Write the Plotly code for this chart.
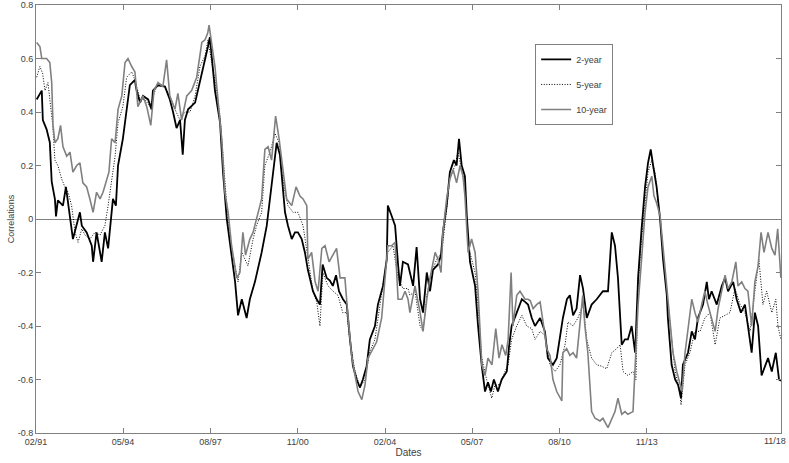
import pandas as pd
import plotly.graph_objects as go

# ---- data (decimal years, correlation values) ----
dates_2y = [1991.11,1991.30,1991.34,1991.48,1991.60,1991.67,1991.79,1991.83,1991.90,1992.09,
1992.20,1992.28,1992.41,1992.46,1992.72,1992.79,1992.97,1993.16,1993.21,1993.34,
1993.53,1993.65,1993.77,1993.84,1993.95,1994.06,1994.14,1994.32,1994.46,1994.58,
1994.77,1994.81,1994.96,1995.07,1995.26,1995.39,1995.44,1995.63,1995.89,1996.07,
1996.19,1996.32,1996.45,1996.55,1996.63,1996.75,1997.01,1997.19,1997.38,1997.49,
1997.56,1997.68,1997.75,1997.94,1998.05,1998.19,1998.31,1998.50,1998.61,1998.75,
1998.93,1999.05,1999.24,1999.49,1999.68,1999.80,1999.91,2000.05,2000.17,2000.28,
2000.36,2000.47,2000.61,2000.73,2000.84,2000.98,2001.10,2001.21,2001.29,2001.40,
2001.54,2001.66,2001.76,2001.91,2002.03,2002.14,2002.26,2002.37,2002.52,2002.66,
2002.78,2002.89,2003.03,2003.15,2003.26,2003.40,2003.52,2003.71,2003.82,2004.01,
2004.15,2004.19,2004.33,2004.46,2004.57,2004.64,2004.75,2004.94,2005.01,2005.13,
2005.26,2005.39,2005.50,2005.64,2005.76,2005.87,2006.06,2006.17,2006.24,2006.38,
2006.50,2006.65,2006.75,2006.84,2006.94,2007.06,2007.13,2007.25,2007.44,2007.55,
2007.69,2007.81,2007.92,2008.03,2008.14,2008.29,2008.43,2008.62,2008.70,2008.80,
2008.99,2009.18,2009.30,2009.41,2009.55,2009.67,2009.86,2010.04,2010.15,2010.34,
2010.48,2010.60,2010.71,2010.86,2010.97,2011.09,2011.22,2011.35,2011.46,2011.60,
2011.78,2011.97,2012.20,2012.39,2012.53,2012.65,2012.76,2012.90,2013.02,2013.13,
2013.27,2013.40,2013.51,2013.64,2013.77,2013.88,2013.98,2014.07,2014.20,2014.33,
2014.44,2014.58,2014.62,2014.76,2014.89,2015.00,2015.11,2015.18,2015.37,2015.51,
2015.63,2015.74,2015.93,2016.07,2016.15,2016.25,2016.44,2016.63,2016.75,2016.86,
2017.05,2017.18,2017.34,2017.49,2017.60,2017.74,2017.86,2017.98,2018.11,2018.24,
2018.35,2018.49,2018.64,2018.76,2018.83]
corr_2y = [0.447,0.48,0.37,0.335,0.286,0.14,0.074,0.01,0.07,0.05,
0.12,0.06,-0.025,-0.075,0.025,-0.025,-0.05,-0.1,-0.16,-0.05,
-0.16,-0.05,-0.11,-0.025,0.075,0.05,0.2,0.3,0.42,0.5,
0.52,0.49,0.435,0.46,0.447,0.41,0.48,0.5,0.495,0.447,
0.4,0.34,0.37,0.24,0.37,0.41,0.435,0.51,0.59,0.645,
0.68,0.57,0.48,0.36,0.175,0.0,-0.1,-0.235,-0.36,-0.3,
-0.37,-0.3,-0.235,-0.125,-0.025,0.075,0.16,0.285,0.24,0.11,
0.025,-0.025,-0.075,-0.05,-0.05,-0.075,-0.125,-0.19,-0.22,-0.27,
-0.3,-0.32,-0.17,-0.22,-0.23,-0.25,-0.21,-0.27,-0.3,-0.32,
-0.45,-0.55,-0.6,-0.63,-0.6,-0.55,-0.45,-0.4,-0.32,-0.25,
-0.15,0.05,0.012,-0.025,-0.17,-0.25,-0.16,-0.17,-0.2,-0.25,
-0.105,-0.3,-0.35,-0.2,-0.27,-0.19,-0.17,-0.135,-0.05,0.05,
0.175,0.22,0.2,0.3,0.2,0.16,0.012,-0.16,-0.25,-0.4,
-0.55,-0.645,-0.61,-0.645,-0.6,-0.645,-0.6,-0.57,-0.48,-0.4,
-0.35,-0.3,-0.31,-0.32,-0.37,-0.4,-0.37,-0.42,-0.52,-0.545,
-0.52,-0.45,-0.37,-0.3,-0.285,-0.36,-0.335,-0.21,-0.26,-0.37,
-0.32,-0.3,-0.27,-0.27,-0.05,-0.1,-0.22,-0.47,-0.45,-0.45,
-0.4,-0.5,-0.22,-0.037,0.12,0.21,0.26,0.2,0.12,0.0,
-0.15,-0.285,-0.37,-0.545,-0.6,-0.62,-0.67,-0.545,-0.5,-0.42,
-0.45,-0.37,-0.32,-0.235,-0.3,-0.27,-0.32,-0.25,-0.22,-0.27,
-0.235,-0.3,-0.35,-0.32,-0.4,-0.5,-0.35,-0.4,-0.585,-0.545,
-0.52,-0.57,-0.5,-0.6,-0.605]

dates_5y = [1991.11,1991.23,1991.33,1991.42,1991.53,1991.60,1991.71,1991.79,1991.90,1992.04,
1992.16,1992.28,1992.41,1992.54,1992.65,1992.79,1992.91,1993.09,1993.28,1993.47,
1993.65,1993.77,1993.90,1994.03,1994.14,1994.32,1994.46,1994.65,1994.77,1994.96,
1995.14,1995.33,1995.52,1995.63,1995.89,1996.07,1996.26,1996.45,1996.63,1996.82,
1997.01,1997.19,1997.38,1997.49,1997.63,1997.75,1997.94,1998.05,1998.19,1998.31,
1998.50,1998.61,1998.75,1998.87,1998.98,1999.17,1999.30,1999.49,1999.61,1999.80,
1999.99,2000.14,2000.28,2000.36,2000.47,2000.66,2000.84,2001.03,2001.21,2001.40,
2001.54,2001.66,2001.77,2001.96,2002.15,2002.33,2002.51,2002.66,2002.78,2002.97,
2003.15,2003.34,2003.52,2003.71,2003.90,2004.08,2004.19,2004.38,2004.57,2004.75,
2004.94,2005.01,2005.20,2005.39,2005.50,2005.64,2005.82,2006.01,2006.20,2006.38,
2006.50,2006.69,2006.80,2006.94,2007.06,2007.18,2007.31,2007.44,2007.55,2007.69,
2007.87,2008.06,2008.18,2008.37,2008.55,2008.67,2008.80,2008.99,2009.18,2009.36,
2009.55,2009.67,2009.86,2010.04,2010.23,2010.42,2010.60,2010.79,2010.90,2011.09,
2011.27,2011.46,2011.60,2011.78,2011.97,2012.15,2012.34,2012.53,2012.71,2012.84,
2012.95,2013.13,2013.32,2013.43,2013.51,2013.64,2013.77,2013.88,2014.02,2014.14,
2014.25,2014.33,2014.51,2014.70,2014.89,2015.07,2015.11,2015.26,2015.44,2015.63,
2015.82,2016.00,2016.19,2016.38,2016.56,2016.75,2016.93,2017.12,2017.31,2017.49,
2017.68,2017.86,2018.01,2018.16,2018.30,2018.49,2018.64,2018.72,2018.83]
corr_5y = [0.53,0.57,0.545,0.48,0.51,0.447,0.35,0.22,0.2,0.15,
0.12,0.1,0.05,-0.05,-0.087,-0.037,-0.06,-0.075,-0.05,-0.06,
-0.025,0.05,0.15,0.235,0.36,0.42,0.53,0.55,0.52,0.447,
0.447,0.42,0.48,0.51,0.495,0.46,0.41,0.37,0.4,0.4,
0.46,0.57,0.61,0.67,0.585,0.52,0.385,0.22,0.05,-0.075,
-0.175,-0.235,-0.125,-0.15,-0.175,-0.075,-0.025,0.025,0.2,0.25,
0.32,0.285,0.15,0.1,0.05,0.025,0.025,-0.025,-0.15,-0.27,
-0.31,-0.4,-0.2,-0.25,-0.27,-0.285,-0.35,-0.35,-0.46,-0.57,
-0.63,-0.6,-0.495,-0.45,-0.32,-0.2,-0.125,-0.1,-0.22,-0.26,
-0.26,-0.285,-0.27,-0.4,-0.42,-0.285,-0.2,-0.15,-0.125,0.037,
0.15,0.2,0.25,0.185,0.12,-0.1,-0.15,-0.2,-0.32,-0.52,
-0.6,-0.67,-0.62,-0.62,-0.57,-0.545,-0.45,-0.4,-0.36,-0.4,
-0.41,-0.45,-0.42,-0.435,-0.545,-0.57,-0.545,-0.47,-0.385,-0.4,
-0.37,-0.32,-0.45,-0.52,-0.545,-0.55,-0.56,-0.5,-0.485,-0.47,
-0.57,-0.585,-0.57,-0.6,-0.25,-0.075,0.06,0.175,0.22,0.175,
0.075,0.0,-0.21,-0.4,-0.57,-0.645,-0.695,-0.545,-0.5,-0.42,
-0.42,-0.37,-0.35,-0.47,-0.37,-0.36,-0.35,-0.26,-0.32,-0.35,
-0.42,-0.27,-0.15,-0.32,-0.27,-0.35,-0.3,-0.4,-0.45]

dates_10y = [1991.11,1991.23,1991.30,1991.48,1991.60,1991.67,1991.72,1991.79,1991.90,1992.00,
1992.09,1992.23,1992.35,1992.46,1992.60,1992.72,1992.83,1992.97,1993.09,1993.21,
1993.34,1993.47,1993.58,1993.72,1993.80,1993.90,1994.03,1994.14,1994.28,1994.40,
1994.51,1994.65,1994.77,1994.88,1995.07,1995.21,1995.36,1995.48,1995.63,1995.81,
1995.95,1996.07,1996.26,1996.37,1996.51,1996.70,1996.88,1997.07,1997.26,1997.38,
1997.48,1997.53,1997.63,1997.75,1997.86,1998.00,1998.12,1998.24,1998.37,1998.56,
1998.68,1998.79,1998.89,1999.05,1999.17,1999.30,1999.49,1999.61,1999.73,1999.86,
2000.01,2000.14,2000.28,2000.42,2000.61,2000.77,2000.92,2001.03,2001.17,2001.21,
2001.35,2001.48,2001.59,2001.73,2001.85,2002.00,2002.14,2002.28,2002.41,2002.59,
2002.71,2002.84,2002.97,2003.08,2003.22,2003.34,2003.45,2003.59,2003.77,2003.96,
2004.08,2004.19,2004.33,2004.46,2004.57,2004.71,2004.83,2004.94,2005.01,2005.20,
2005.39,2005.50,2005.64,2005.76,2005.95,2006.06,2006.17,2006.24,2006.38,2006.50,
2006.62,2006.75,2006.88,2006.99,2007.06,2007.18,2007.31,2007.44,2007.55,2007.69,
2007.81,2007.92,2008.07,2008.21,2008.33,2008.44,2008.58,2008.67,2008.78,2008.85,
2008.99,2009.11,2009.30,2009.41,2009.49,2009.60,2009.73,2009.86,2009.97,2010.11,
2010.23,2010.34,2010.48,2010.67,2010.71,2010.85,2010.97,2011.09,2011.22,2011.35,
2011.45,2011.53,2011.64,2011.78,2011.91,2012.09,2012.20,2012.39,2012.53,2012.65,
2012.76,2012.90,2013.02,2013.13,2013.32,2013.40,2013.51,2013.64,2013.77,2013.88,
2014.02,2014.10,2014.20,2014.33,2014.44,2014.58,2014.70,2014.81,2014.95,2015.07,
2015.15,2015.26,2015.37,2015.51,2015.63,2015.74,2015.88,2016.00,2016.11,2016.25,
2016.38,2016.49,2016.63,2016.75,2016.86,2017.00,2017.15,2017.23,2017.37,2017.49,
2017.60,2017.74,2017.86,2017.98,2018.09,2018.20,2018.35,2018.49,2018.61,2018.71,
2018.83]
corr_10y = [0.66,0.645,0.6,0.6,0.585,0.51,0.35,0.285,0.3,0.35,
0.27,0.235,0.25,0.175,0.2,0.21,0.135,0.12,0.075,0.025,
0.1,0.075,0.1,0.15,0.175,0.3,0.285,0.41,0.46,0.585,
0.6,0.57,0.55,0.42,0.46,0.42,0.35,0.48,0.51,0.495,
0.595,0.46,0.41,0.47,0.37,0.46,0.48,0.53,0.66,0.67,
0.695,0.725,0.645,0.57,0.447,0.3,0.1,0.025,-0.1,-0.22,
-0.2,-0.05,-0.135,-0.075,-0.05,0.0,0.075,0.26,0.27,0.22,
0.385,0.3,0.19,0.075,0.05,0.12,0.085,0.075,0.05,-0.15,
-0.125,-0.235,-0.27,-0.11,-0.1,-0.16,-0.135,-0.11,-0.22,-0.22,
-0.37,-0.51,-0.585,-0.645,-0.675,-0.62,-0.52,-0.495,-0.46,-0.37,
-0.22,-0.1,-0.1,-0.087,-0.3,-0.3,-0.27,-0.3,-0.35,-0.25,
-0.35,-0.42,-0.3,-0.22,-0.125,-0.15,-0.2,-0.05,0.075,0.15,
0.185,0.135,0.2,0.16,0.087,-0.125,-0.075,-0.125,-0.27,-0.545,
-0.585,-0.52,-0.545,-0.41,-0.52,-0.47,-0.51,-0.45,-0.2,-0.4,
-0.285,-0.27,-0.3,-0.3,-0.305,-0.335,-0.32,-0.31,-0.385,-0.485,
-0.51,-0.6,-0.645,-0.68,-0.5,-0.485,-0.51,-0.5,-0.52,-0.37,
-0.285,-0.4,-0.5,-0.72,-0.745,-0.755,-0.745,-0.78,-0.745,-0.72,
-0.67,-0.73,-0.72,-0.73,-0.72,-0.57,-0.32,-0.15,0.025,0.12,
0.16,0.087,0.06,0.012,-0.1,-0.25,-0.37,-0.5,-0.57,-0.62,
-0.645,-0.5,-0.42,-0.3,-0.35,-0.385,-0.32,-0.27,-0.32,-0.37,
-0.42,-0.335,-0.26,-0.21,-0.26,-0.235,-0.16,-0.25,-0.235,-0.26,
-0.27,-0.4,-0.235,-0.175,-0.05,-0.125,-0.05,-0.11,-0.135,-0.037,
-0.22]

series_names = ["2-year", "5-year", "10-year"]
x_tick_dates = ["1991-02-01", "1994-05-01", "1997-08-01", "2000-11-01", "2004-02-01",
                "2007-05-01", "2010-08-01", "2013-11-01", "2018-11-01"]
x_tick_labels = ["02/91", "05/94", "08/97", "11/00", "02/04", "05/07", "08/10", "11/13", "11/18"]
y_tick_vals = [-0.8, -0.6, -0.4, -0.2, 0, 0.2, 0.4, 0.6, 0.8]
y_tick_labels = ["-0.8", "-0.6", "-0.4", "-0.2", "0", "0.2", "0.4", "0.6", "0.8"]


def to_dates(years):
    out = []
    for y in years:
        yr = int(y)
        start = pd.Timestamp(yr, 1, 1)
        end = pd.Timestamp(yr + 1, 1, 1)
        out.append(start + (end - start) * (y - yr))
    return out


FONT = "Liberation Sans, Arial, sans-serif"
TICKFONT = dict(family=FONT, size=9, color="#404040")
fig = go.Figure()
styles = [
    dict(color="#000000", width=1.8, dash="solid"),
    dict(color="#000000", width=1.0, dash="1px,1.6px"),
    dict(color="#808080", width=1.6, dash="solid"),
]
for name, d, v, st in zip(series_names, [dates_2y, dates_5y, dates_10y],
                          [corr_2y, corr_5y, corr_10y], styles):
    fig.add_trace(go.Scatter(x=to_dates(d), y=v, mode="lines", name=name,
                             legendgroup=name, line=st))

axis_common = dict(showgrid=False, showline=True, linecolor="#808080", linewidth=1,
                   mirror="ticks", ticks="inside", ticklen=5, tickcolor="#808080",
                   ticklabeloverflow="allow", automargin=False, tickfont=TICKFONT)
# the last tick sits on the right edge of the page: its label is right-aligned
# to the tick so it stays inside the picture
shown_tick_labels = x_tick_labels[:-1] + [""]
fig.update_xaxes(range=["1991-02-01", "2018-11-01 06:00"], tickvals=x_tick_dates,
                 ticktext=shown_tick_labels, zeroline=False,
                 title=dict(text="Dates", font=dict(family=FONT, size=10, color="#404040"),
                            standoff=2),
                 **axis_common)
fig.add_annotation(x=x_tick_dates[-1], xref="x", y=0, yref="paper",
                   text=x_tick_labels[-1], showarrow=False,
                   xanchor="right", yanchor="top", xshift=7, yshift=-1,
                   font=TICKFONT)
fig.update_yaxes(range=[-0.8, 0.8], tickvals=y_tick_vals, ticktext=y_tick_labels,
                 zeroline=True, zerolinecolor="#808080", zerolinewidth=1,
                 title=dict(text="Correlations", font=dict(family=FONT, size=9, color="#404040"),
                            standoff=1),
                 **axis_common)
fig.update_layout(
    width=789, height=463,
    margin=dict(l=36, r=8, t=5, b=30, autoexpand=False),
    paper_bgcolor="white", plot_bgcolor="white",
    showlegend=True,
    legend=dict(x=0.670, y=0.909, xanchor="left", yanchor="top",
                bgcolor="white", bordercolor="#808080", borderwidth=1,
                font=dict(family=FONT, size=9, color="#404040"),
                tracegroupgap=6),
)
fig.write_html("out.html", config={"displayModeBar": False},
               post_script="document.body.style.margin='0px';document.body.style.overflow='hidden';")
